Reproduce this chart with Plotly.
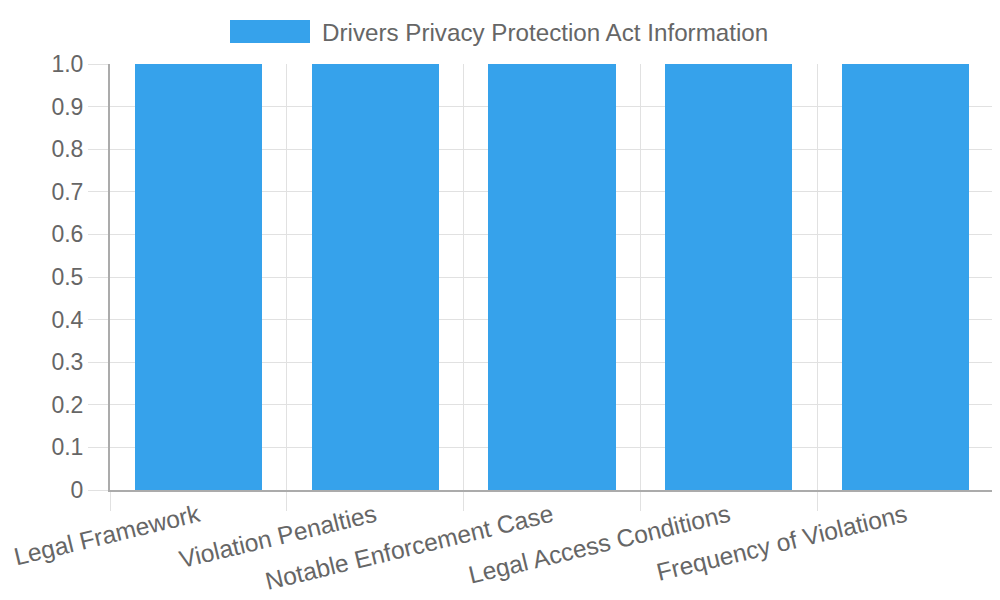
import plotly.graph_objects as go

categories = ["Legal Framework", "Violation Penalties", "Notable Enforcement Case",
              "Legal Access Conditions", "Frequency of Violations"]
values = [1, 1, 1, 1, 1]
series_name = "Drivers Privacy Protection Act Information"
y_ticks = [0, 0.1, 0.2, 0.3, 0.4, 0.5, 0.6, 0.7, 0.8, 0.9, 1.0]
y_tick_labels = ["0", "0.1", "0.2", "0.3", "0.4", "0.5", "0.6", "0.7", "0.8", "0.9", "1.0"]

blue = "#36A2EB"
grid = "#e1e1e1"
axis = "#ababab"
text = "#666666"
font = "Liberation Sans, Arial, sans-serif"

# plot area in page pixels: x 110..994, y 64..490 (page has 8px body margin)
L, R, T, B = 110, 994, 64, 490
OFF = 8

def px(x):
    return (x - L) / (R - L)

def py(y):
    return (B - y) / (B - T)

fig = go.Figure()

fig.add_trace(go.Bar(
    x=categories,
    y=values,
    name=series_name,
    marker=dict(color=blue, line=dict(width=0)),
    width=0.72,
    showlegend=False,
))

# legend drawn by hand so the colour box has the wide chart.js shape
fig.add_shape(type="rect", xref="paper", yref="paper",
              x0=px(230), x1=px(310), y0=py(43), y1=py(20),
              fillcolor=blue, line=dict(width=0))
fig.add_annotation(text=series_name, xref="paper", yref="paper",
                   x=px(320), y=py(32),
                   xanchor="left", yanchor="middle", showarrow=False,
                   font=dict(family=font, size=24.2, color=text))

fig.update_layout(
    width=1000, height=600,
    margin=dict(l=L - OFF, r=1000 + OFF - R, t=T - OFF, b=600 + OFF - B),
    paper_bgcolor="white", plot_bgcolor="white",
    font=dict(family=font, size=24, color=text),
    bargap=0,
)

fig.update_xaxes(
    type="category",
    range=[-0.5, 4.5],
    automargin=False,
    tickson="boundaries",
    ticks="outside", ticklen=19, tickcolor=grid, tickwidth=1,
    showgrid=True, gridcolor=grid, gridwidth=1,
    showline=True, linecolor=axis, linewidth=2,
    tickangle=-13.5,
    tickfont=dict(family=font, size=24.6, color=text),
)

fig.update_yaxes(
    range=[0, 1.0],
    automargin=False,
    tickvals=y_ticks, ticktext=y_tick_labels,
    ticks="outside", ticklen=20, tickcolor=grid, tickwidth=1,
    showgrid=True, gridcolor=grid, gridwidth=1,
    showline=True, linecolor=axis, linewidth=2,
    zeroline=False,
    tickfont=dict(family=font, size=23, color=text),
)

fig.write_html("out.html")
